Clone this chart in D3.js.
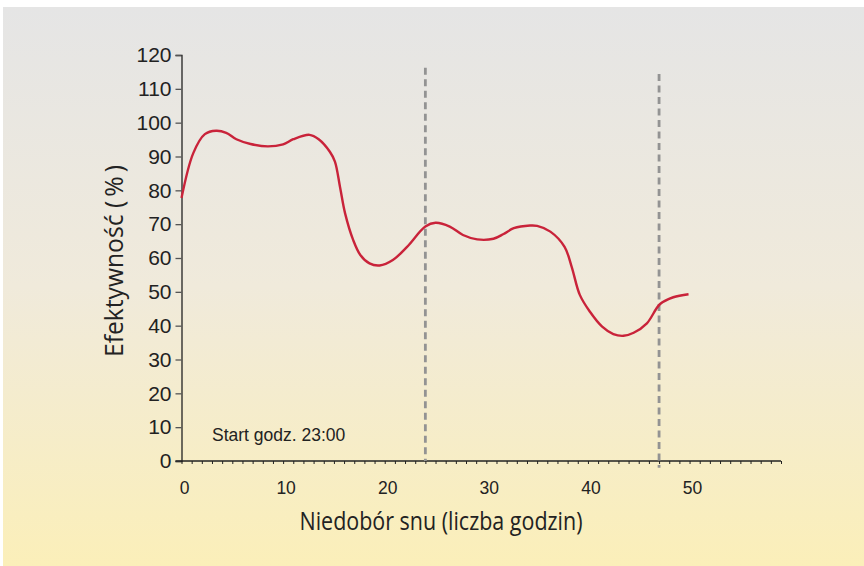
<!DOCTYPE html>
<html>
<head>
<meta charset="utf-8">
<script src="https://cdn.jsdelivr.net/npm/d3@7"></script>
<style>
  body { margin: 0; background: #fff; }
  #chart { width: 864px; height: 566px; }
</style>
</head>
<body>
<div id="chart"></div>
<script>
// hours of sleep deprivation and measured efficiency (%)
var hours = [0, 1.16, 2.3, 3.4, 4.4, 5.4, 6.8, 8.5, 10, 11, 12.6, 13.5, 14.6, 15.1, 15.6, 16.1, 16.9, 17.6, 18.5,
             19.5, 20.8, 22.2, 24, 25, 26.4, 27.7, 29.1, 30.7, 31.7, 32.7, 34.3, 35, 36.3, 37.7, 38.4, 39.2, 40.2,
             41.4, 42.5, 43.5, 44.5, 45.8, 47.1, 48.4, 49.9];
var efficiency = [77.7, 91, 96.6, 97.6, 97, 95.1, 93.7, 93, 93.6, 95.1, 96.4, 95.1, 91.4, 88.5, 81, 73.2, 65.3, 60.9, 58.4,
                  57.8, 59.4, 63.3, 69.3, 70.4, 69.3, 66.8, 65.5, 65.7, 67.1, 68.8, 69.6, 69.5, 67.8, 63.3, 57.4, 49.1, 44.1,
                  39.7, 37.5, 37, 37.9, 40.7, 46.4, 48.4, 49.3];

// vertical dashed markers (hour, top value, bottom value)
var markerHours = [24, 47];
var markerTop = [116.2, 114.4];
var markerBottom = [0, -2];

var yTicks = [0, 10, 20, 30, 40, 50, 60, 70, 80, 90, 100, 110, 120];
var xTicks = [0, 10, 20, 30, 40, 50];

var note = "Start godz. 23:00";
var xTitle = "Niedobór snu (liczba godzin)";
var yTitle = "Efektywność (\u2009%\u2009)";

var width = 864, height = 566;

var svg = d3.select('#chart').append('svg')
    .attr('width', width)
    .attr('height', height);

// background gradient panel
var grad = svg.append('defs').append('linearGradient')
    .attr('id', 'bg')
    .attr('x1', 0).attr('y1', 0).attr('x2', 0).attr('y2', 1);
grad.append('stop').attr('offset', '0%').attr('stop-color', '#e5e5e5');
grad.append('stop').attr('offset', '50%').attr('stop-color', '#f0eadb');
grad.append('stop').attr('offset', '100%').attr('stop-color', '#fbefb9');

svg.append('rect')
    .attr('x', 3).attr('y', 7)
    .attr('width', width - 3).attr('height', height - 7)
    .attr('fill', 'url(#bg)');

var x = d3.scaleLinear().domain([0, 59]).range([181.5, 781]);
var y = d3.scaleLinear().domain([0, 120]).range([461, 55]);

// y axis
var yAxis = svg.append('g')
    .attr('transform', 'translate(' + x(0) + ',0)')
    .call(d3.axisLeft(y).tickValues(yTicks).tickSize(6).tickPadding(4));
yAxis.select('.domain').attr('stroke', '#222').attr('stroke-width', 1.3);
yAxis.selectAll('.tick line').attr('stroke', '#555').attr('stroke-width', 1.3);
yAxis.selectAll('.tick text')
    .attr('fill', '#222')
    .style('font-family', 'Liberation Sans, Arial, sans-serif')
    .style('font-size', '21px');

// x axis: minor ticks every hour, labels every 10
var xAxis = svg.append('g')
    .attr('transform', 'translate(0,' + y(0) + ')')
    .call(d3.axisBottom(x).tickValues(d3.range(0, 60)).tickSize(3).tickFormat(''));
xAxis.select('.domain').attr('d', 'M' + (x(0) - 6) + ',0H' + x(59)).attr('stroke', '#222').attr('stroke-width', 1.3);
xAxis.selectAll('.tick line').attr('stroke', '#222');

svg.append('g').selectAll('text')
    .data(xTicks)
    .enter()
    .append('text')
    .attr('x', function(d) { return x(d) + 3; })
    .attr('y', y(0) + 33)
    .attr('text-anchor', 'middle')
    .attr('fill', '#222')
    .style('font-family', 'Liberation Sans, Arial, sans-serif')
    .style('font-size', '17.5px')
    .text(function(d) { return d; });

// dashed markers
svg.append('g').selectAll('line')
    .data(markerHours)
    .enter()
    .append('line')
    .attr('x1', function(d) { return x(d); })
    .attr('x2', function(d) { return x(d); })
    .attr('y1', function(d, i) { return y(markerTop[i]); })
    .attr('y2', function(d, i) { return y(markerBottom[i]); })
    .attr('stroke', '#939393')
    .attr('stroke-width', 2.8)
    .attr('stroke-dasharray', '7,4.5');

// efficiency curve
var points = hours.map(function(h, i) { return [h, efficiency[i]]; });
var line = d3.line()
    .x(function(d) { return x(d[0]); })
    .y(function(d) { return y(d[1]); })
    .curve(d3.curveCatmullRom.alpha(0.5));

svg.append('path')
    .datum(points)
    .attr('d', line)
    .attr('fill', 'none')
    .attr('stroke', '#c9233a')
    .attr('stroke-width', 2.4)
    .attr('stroke-linejoin', 'round');

// annotation
svg.append('text')
    .attr('x', 212)
    .attr('y', 441)
    .attr('fill', '#222')
    .style('font-family', 'Liberation Sans, Arial, sans-serif')
    .style('font-size', '17.5px')
    .text(note);

// axis titles
svg.append('text')
    .attr('x', 441)
    .attr('y', 530)
    .attr('text-anchor', 'middle')
    .attr('fill', '#222')
    .attr('textLength', 283)
    .attr('lengthAdjust', 'spacingAndGlyphs')
    .style('font-family', 'Open Sans, Noto Sans, sans-serif')
    .style('font-size', '26px')
    .text(xTitle);

svg.append('text')
    .attr('transform', 'translate(123,261) rotate(-90)')
    .attr('text-anchor', 'middle')
    .attr('fill', '#222')
    .attr('textLength', 192)
    .attr('lengthAdjust', 'spacingAndGlyphs')
    .style('font-family', 'Open Sans, Noto Sans, sans-serif')
    .style('font-size', '26px')
    .text(yTitle);
</script>
</body>
</html>
